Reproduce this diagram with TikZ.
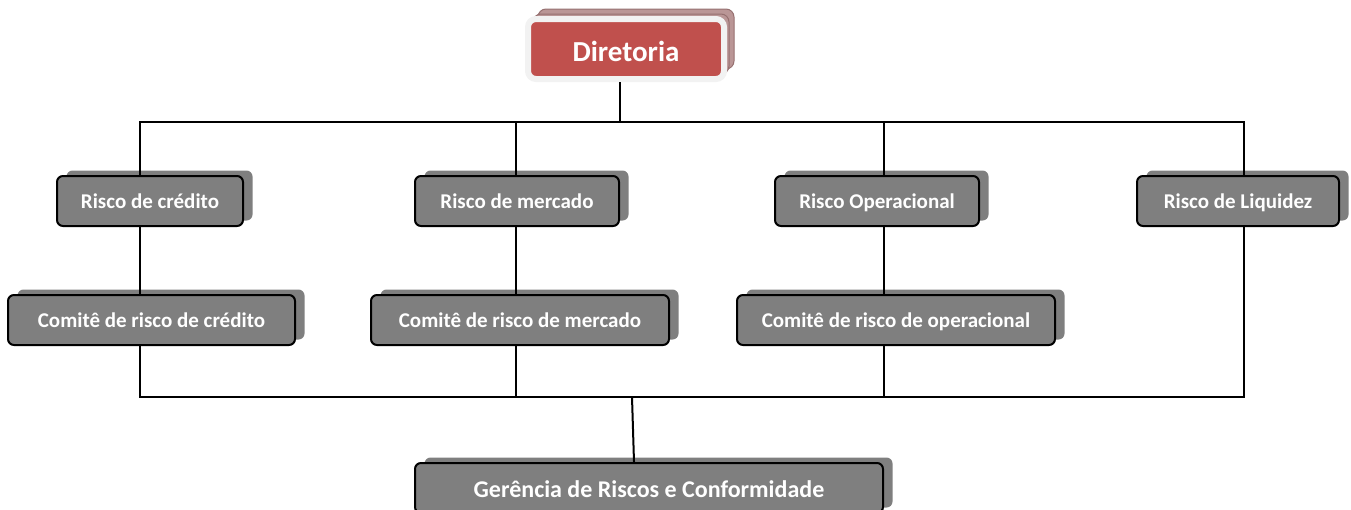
\documentclass[tikz,border=0pt]{standalone}
\usepackage{fontspec}
\setmainfont{Carlito}
\usetikzlibrary{shadows}

\definecolor{boxgray}{RGB}{127,127,127}
\definecolor{dirred}{RGB}{192,80,77}
\definecolor{dirrim}{RGB}{242,242,242}
\definecolor{dirshade}{RGB}{186,150,150}
\definecolor{dirshadeline}{RGB}{150,112,112}

\tikzset{
    riskbox/.style={draw=black, line width=2pt, fill=boxgray, rounded corners=6pt,
        text=white, font=\fontsize{21}{25}\selectfont\bfseries, inner sep=0pt,
        text height=17pt, text depth=3pt, minimum height=50pt,
        drop shadow={shadow xshift=9.5pt, shadow yshift=5.5pt, fill=boxgray, opacity=1}},
    dirbox/.style={draw=dirrim, line width=6pt, fill=dirred, rounded corners=8pt,
        text=white, font=\fontsize{29}{33}\selectfont\bfseries, inner sep=0pt,
        text height=26pt, text depth=2pt, minimum width=196pt, minimum height=60pt,
        double copy shadow={shadow xshift=5pt, shadow yshift=5pt, fill=dirshade,
            draw=dirshadeline, line width=1pt}},
    link/.style={draw=black, line width=2pt}
}

\begin{document}
\begin{tikzpicture}[x=1pt, y=-1pt]
        \useasboundingbox (0, 0) rectangle (1351, 509);

        \node[dirbox] (dir) at (626, 49) {Diretoria};

        \node[riskbox, minimum width=186pt] (rc) at (150, 201) {Risco de crédito};
        \node[riskbox, minimum width=204pt] (rm) at (517, 201) {Risco de mercado};
        \node[riskbox, minimum width=204pt] (ro) at (877, 201) {Risco Operacional};
        \node[riskbox, minimum width=202pt] (rl) at (1238, 201) {Risco de Liquidez};

        \node[riskbox, minimum width=287pt] (cc) at (151.5, 320) {Comitê de risco de crédito};
        \node[riskbox, minimum width=298pt] (cm) at (520, 320) {Comitê de risco de mercado};
        \node[riskbox, minimum width=318pt] (co) at (896, 320) {Comitê de risco de operacional};

        \node[riskbox, minimum width=468pt, text height=21pt, text depth=2.5pt,
            font=\fontsize{24}{28}\selectfont\bfseries] (ger) at (649, 488) {Gerência de Riscos e Conformidade};

        \coordinate (t0) at (620, 122);
        \coordinate (t1) at (140, 122);
        \coordinate (t2) at (516, 122);
        \coordinate (t3) at (884, 122);
        \coordinate (t4) at (1244, 122);
        \coordinate (b1) at (140, 397);
        \coordinate (b2) at (516, 397);
        \coordinate (b3) at (884, 397);
        \coordinate (b4) at (1244, 397);
        \coordinate (g0) at (632, 397);

        \draw[link] (t0 |- dir.south) -- (t0);
        \draw[link] (t1 |- rc.north) -- (t1) -- (t4) -- (t4 |- rl.north);
        \draw[link] (t2) -- (t2 |- rm.north);
        \draw[link] (t3) -- (t3 |- ro.north);

        \draw[link] (t1 |- rc.south) -- (t1 |- cc.north);
        \draw[link] (t2 |- rm.south) -- (t2 |- cm.north);
        \draw[link] (t3 |- ro.south) -- (t3 |- co.north);

        \draw[link] (b1 |- cc.south) -- (b1) -- (b4) -- (b4 |- rl.south);
        \draw[link] (b2 |- cm.south) -- (b2);
        \draw[link] (b3 |- co.south) -- (b3);
        \draw[link] (g0) -- ([xshift=-15pt]ger.north);

    \end{tikzpicture}
\end{document}
